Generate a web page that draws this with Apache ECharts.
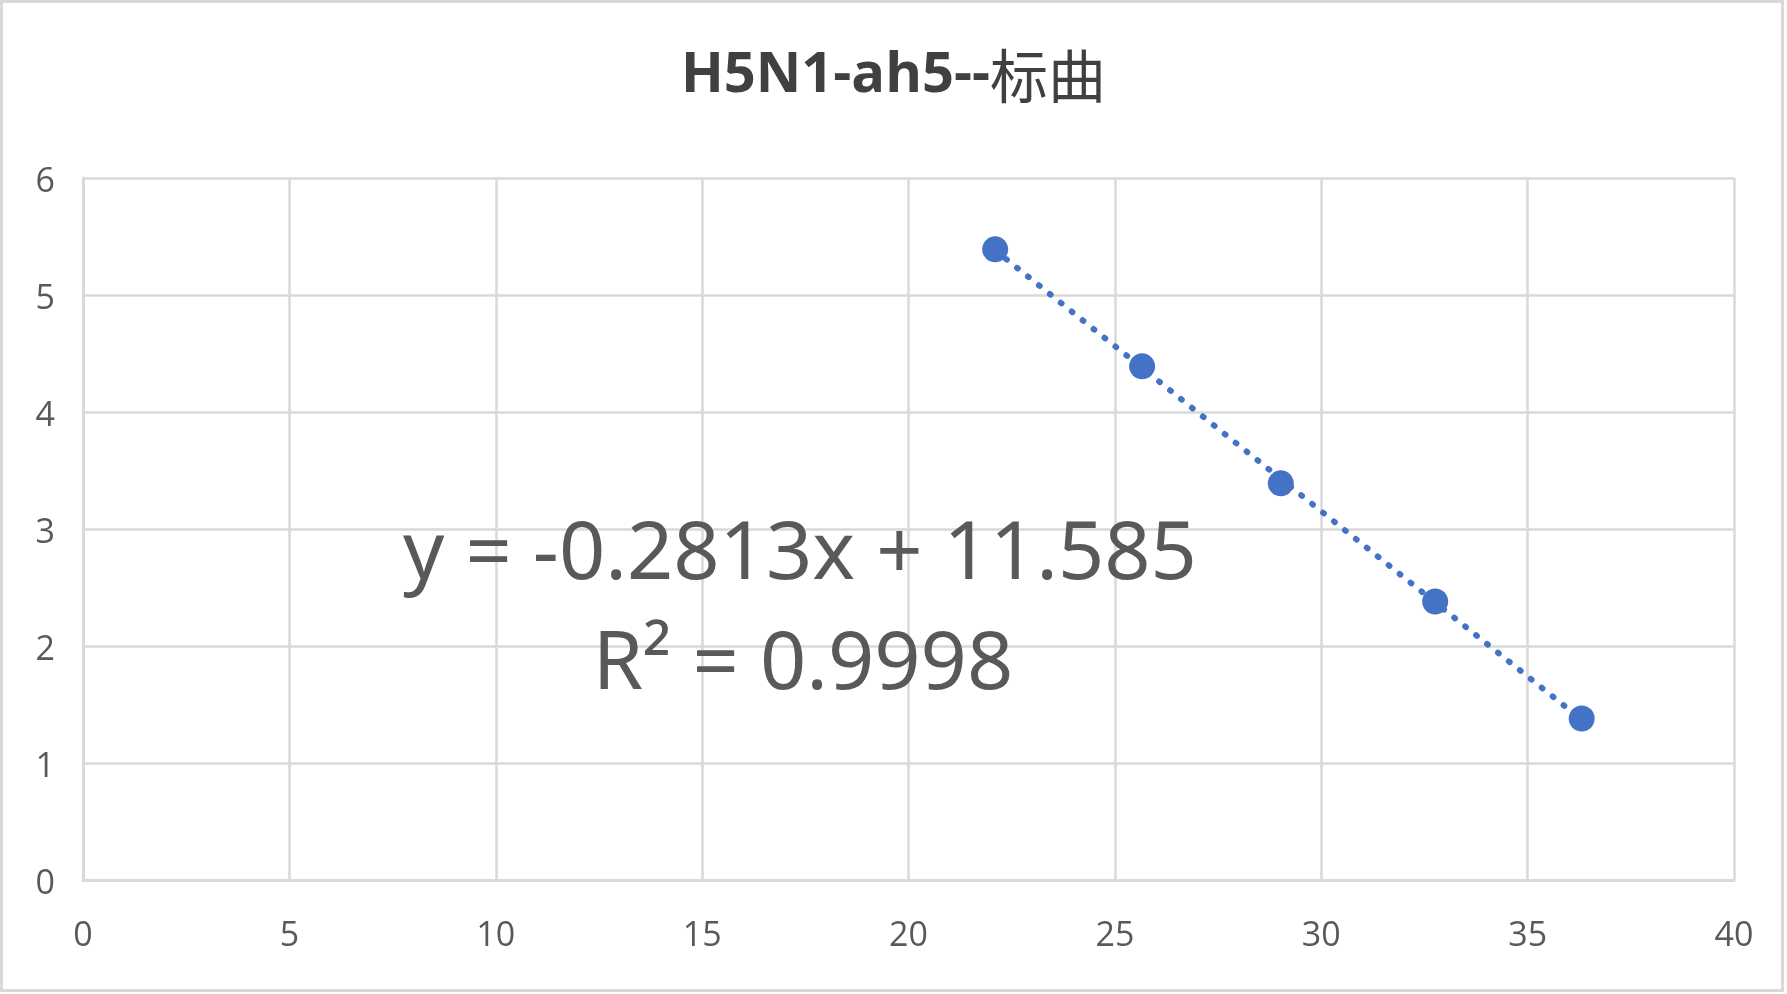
<!DOCTYPE html>
<html>
<head>
<meta charset="utf-8">
<script src="https://cdn.jsdelivr.net/npm/echarts@6/dist/echarts.min.js"></script>
<style>
html,body{margin:0;padding:0;background:#fff;}
#c{width:1787px;height:994px;}
</style>
</head>
<body>
<div id="c"></div>
<script>
const titleLatin = 'H5N1-ah5--';
const titleCJK = '标曲';
const xValues = [22.10, 25.66, 29.02, 32.76, 36.31];
const yValues = [5.39, 4.39, 3.39, 2.38, 1.38];
const equationLines = ['y = -0.2813x + 11.585', 'R² = 0.9998'];
const xTicks = [0, 40, 5];
const yTicks = [0, 6, 1];

// least squares fit of the data (trendline)
const n = xValues.length;
const mx = xValues.reduce((a, b) => a + b, 0) / n;
const my = yValues.reduce((a, b) => a + b, 0) / n;
let sxy = 0, sxx = 0;
for (let i = 0; i < n; i++) { sxy += (xValues[i] - mx) * (yValues[i] - my); sxx += (xValues[i] - mx) ** 2; }
const slope = sxy / sxx, intercept = my - slope * mx;
const xMin = Math.min(...xValues), xMax = Math.max(...xValues);
const trend = [[xMin, slope * xMin + intercept], [xMax, slope * xMax + intercept]];

const chart = echarts.init(document.getElementById('c'));
const gridColor = '#d9d9d9';
const labelColor = '#595959';
chart.setOption({
  backgroundColor: '#fff',
  animation: false,
  title: {
    text: '{a|' + titleLatin + '}{b|' + titleCJK + '}', left: 'center', top: 42,
    textStyle: {
      rich: {
        a: { fontFamily: 'Open Sans', fontWeight: 'bold', fontSize: 56, color: '#404040' },
        b: { fontFamily: 'Noto Sans CJK SC', fontWeight: 'normal', fontSize: 58, color: '#404040' }
      }
    }
  },
  grid: { left: 83, right: 53, top: 178, bottom: 114, outerBoundsMode: 'none', containLabel: false },
  xAxis: {
    type: 'value', min: xTicks[0], max: xTicks[1], interval: xTicks[2],
    axisLine: { show: true, lineStyle: { color: gridColor, width: 3 } },
    axisTick: { show: false },
    splitLine: { show: true, lineStyle: { color: gridColor, width: 2.5 } },
    axisLabel: { fontSize: 34, color: labelColor, margin: 39, fontFamily: 'Open Sans' }
  },
  yAxis: {
    type: 'value', min: yTicks[0], max: yTicks[1], interval: yTicks[2],
    axisLine: { show: true, lineStyle: { color: gridColor, width: 3 } },
    axisTick: { show: false },
    splitLine: { show: true, lineStyle: { color: gridColor, width: 2.5 } },
    axisLabel: {
      margin: 28, formatter: '{v|{value}}',
      rich: { v: { fontSize: 34, color: labelColor, fontFamily: 'Open Sans', padding: [8, 0, 0, 0] } }
    }
  },
  graphic: [
    { type: 'rect', shape: { x: 1.5, y: 1.5, width: 1781, height: 989 }, style: { fill: 'none', stroke: gridColor, lineWidth: 3 }, silent: true, z: 0 },
    { type: 'text', x: 800, y: 596, style: { text: equationLines[0], textAlign: 'center', textVerticalAlign: 'bottom', fontSize: 81, fontFamily: 'Noto Sans', fill: labelColor }, z: 10 },
    { type: 'text', x: 803, y: 706, style: { text: equationLines[1], textAlign: 'center', textVerticalAlign: 'bottom', fontSize: 81, fontFamily: 'Noto Sans', fill: labelColor }, z: 10 }
  ],
  series: [
    {
      type: 'line', data: trend, symbol: 'none', silent: true, z: 2,
      lineStyle: { color: '#4472c4', width: 6, type: [1, 13], cap: 'round' }
    },
    {
      type: 'scatter', data: xValues.map((x, i) => [x, yValues[i]]), symbolSize: 26, z: 3,
      itemStyle: { color: '#4472c4', opacity: 1 }
    }
  ]
});
</script>
</body>
</html>
